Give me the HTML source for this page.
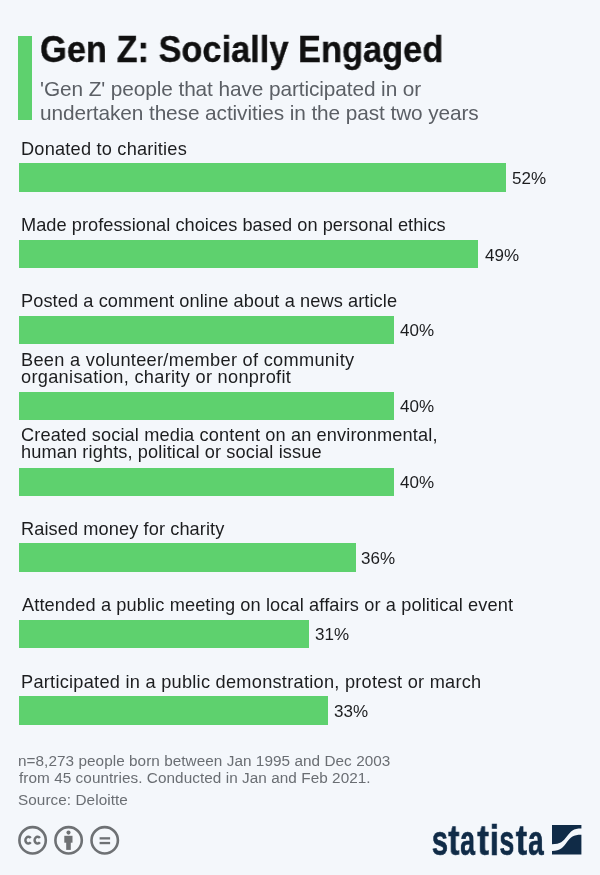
<!DOCTYPE html>
<html>
<head>
<meta charset="utf-8">
<style>
html,body{margin:0;padding:0;}
body{width:600px;height:875px;background:#f4f7fb;position:relative;overflow:hidden;font-family:"Liberation Sans",sans-serif;}
.t{position:absolute;white-space:nowrap;line-height:20px;height:20px;will-change:transform;}
.bar{position:absolute;left:18.5px;height:28.5px;background:#5ed16e;}
.t i{display:inline-block;width:0;height:0;vertical-align:baseline;}
.accent{position:absolute;left:18px;top:36.25px;width:14px;height:83.5px;background:#5ed16e;}
.title{font-size:36.5px;color:#101010;font-weight:bold;-webkit-text-stroke:0.35px #101010;}
.sub{font-size:20.8px;color:#5b5f65;}
.lbl{font-size:18.2px;color:#1c1d1f;}
.note{font-size:15.3px;color:#6a6e73;}
.pct{font-size:17px;color:#1c1d1f;}
</style>
</head>
<body>
<div class="accent"></div>
<div class="t title" style="left:40.00px;top:40.01px;letter-spacing:0.000px;transform:scaleX(0.9424);transform-origin:0 0;">Gen Z: Socially Engaged<i></i></div>
<div class="t sub" style="left:40.30px;top:79.01px;letter-spacing:-0.086px;">'Gen Z' people that have participated in or<i></i></div>
<div class="t sub" style="left:40.00px;top:103.01px;letter-spacing:-0.083px;">undertaken these activities in the past two years<i></i></div>
<div class="t lbl" style="left:20.50px;top:139.00px;letter-spacing:0.211px;">Donated to charities<i></i></div>
<div class="t lbl" style="left:20.50px;top:215.00px;letter-spacing:0.041px;">Made professional choices based on personal ethics<i></i></div>
<div class="t lbl" style="left:20.50px;top:291.00px;letter-spacing:0.093px;">Posted a comment online about a news article<i></i></div>
<div class="t lbl" style="left:20.50px;top:350.01px;letter-spacing:0.303px;">Been a volunteer/member of community<i></i></div>
<div class="t lbl" style="left:20.50px;top:367.01px;letter-spacing:0.303px;">organisation, charity or nonprofit<i></i></div>
<div class="t lbl" style="left:20.50px;top:425.00px;letter-spacing:0.125px;">Created social media content on an environmental,<i></i></div>
<div class="t lbl" style="left:20.50px;top:442.00px;letter-spacing:0.116px;">human rights, political or social issue<i></i></div>
<div class="t lbl" style="left:20.50px;top:519.00px;letter-spacing:0.096px;">Raised money for charity<i></i></div>
<div class="t lbl" style="left:21.50px;top:595.00px;letter-spacing:0.113px;">Attended a public meeting on local affairs or a political event<i></i></div>
<div class="t lbl" style="left:20.50px;top:672.00px;letter-spacing:0.262px;">Participated in a public demonstration, protest or march<i></i></div>
<div class="t note" style="left:18.00px;top:751.01px;letter-spacing:0.058px;">n=8,273 people born between Jan 1995 and Dec 2003<i></i></div>
<div class="t note" style="left:19.00px;top:768.00px;letter-spacing:0.062px;">from 45 countries. Conducted in Jan and Feb 2021.<i></i></div>
<div class="t note" style="left:18.00px;top:790.01px;letter-spacing:0.067px;">Source: Deloitte<i></i></div>
<div class="t pct" style="left:512.00px;top:169.01px;letter-spacing:0.000px;">52%<i></i></div>
<div class="t pct" style="left:484.50px;top:246.01px;letter-spacing:0.000px;">49%<i></i></div>
<div class="t pct" style="left:400.00px;top:321.01px;letter-spacing:0.000px;">40%<i></i></div>
<div class="t pct" style="left:400.00px;top:397.00px;letter-spacing:0.000px;">40%<i></i></div>
<div class="t pct" style="left:400.00px;top:473.01px;letter-spacing:0.000px;">40%<i></i></div>
<div class="t pct" style="left:361.00px;top:549.00px;letter-spacing:0.000px;">36%<i></i></div>
<div class="t pct" style="left:315.00px;top:625.01px;letter-spacing:0.000px;">31%<i></i></div>
<div class="t pct" style="left:333.70px;top:702.01px;letter-spacing:0.000px;">33%<i></i></div>
<div class="bar" style="top:163.10px;width:487.80px"></div>
<div class="bar" style="top:239.60px;width:459.60px"></div>
<div class="bar" style="top:315.50px;width:375.40px"></div>
<div class="bar" style="top:391.70px;width:375.50px"></div>
<div class="bar" style="top:467.50px;width:375.50px"></div>
<div class="bar" style="top:543.20px;width:337.70px"></div>
<div class="bar" style="top:619.70px;width:290.50px"></div>
<div class="bar" style="top:696.10px;width:309.20px"></div>
<svg style="position:absolute;left:0;top:815px" width="130" height="50" viewBox="0 815 130 50">
<g fill="none" stroke="#6e7174" stroke-width="2.6">
<circle cx="32.6" cy="840.3" r="13.2"/>
<circle cx="68.6" cy="840.3" r="13.2"/>
<circle cx="104.7" cy="840.3" r="13.2"/>
</g>
<g fill="none" stroke="#6e7174" stroke-width="2.5">
<path d="M30.7 838.05A3.0 3.35 0 1 0 30.7 842.35"/>
<path d="M39.9 838.05A3.0 3.35 0 1 0 39.9 842.35"/>
</g>
<g fill="#6e7174">
<circle cx="68.5" cy="832.6" r="2.05"/>
<rect x="64.3" y="835.8" width="8.2" height="6.9"/>
<rect x="66.2" y="842" width="4.6" height="7.9"/>
<rect x="99.6" y="837.2" width="10.5" height="2.3"/>
<rect x="99.6" y="841.9" width="10.5" height="2.3"/>
</g>
</svg>
<style>.lg{position:absolute;left:0;top:811px;will-change:transform;font-family:"Liberation Sans",sans-serif;font-weight:bold;font-size:42.5px;line-height:60px;color:#102b47;-webkit-text-stroke:0.6px #102b47;transform-origin:0 0;}</style>
<div class="lg" style="transform:translateX(431.84px) scaleX(0.6831)">s</div>
<div class="lg" style="transform:translateX(448.23px) scaleX(0.7967)">t</div>
<div class="lg" style="transform:translateX(460.07px) scaleX(0.6374)">a</div>
<div class="lg" style="transform:translateX(477.23px) scaleX(0.8257)">t</div>
<div class="lg" style="transform:translateX(489.87px) scaleX(0.7681)">i</div>
<div class="lg" style="transform:translateX(499.39px) scaleX(0.6332)">s</div>
<div class="lg" style="transform:translateX(515.73px) scaleX(0.7949)">t</div>
<div class="lg" style="transform:translateX(528.05px) scaleX(0.6579)">a</div>
<svg style="position:absolute;left:552.2px;top:825.3px" width="30" height="30" viewBox="0 0 30 30">
<path fill="#102b47" d="M0 0H29.4V3.4C21 3.4 19 6 15 11.3C11 16.6 8.5 19.2 0 19.2Z"/>
<path fill="#102b47" d="M29.4 9.8C21 9.8 19 12 15 17C11 22.5 8.5 25.9 0 25.9V29.4H29.4Z"/>
</svg>
</body>
</html>
